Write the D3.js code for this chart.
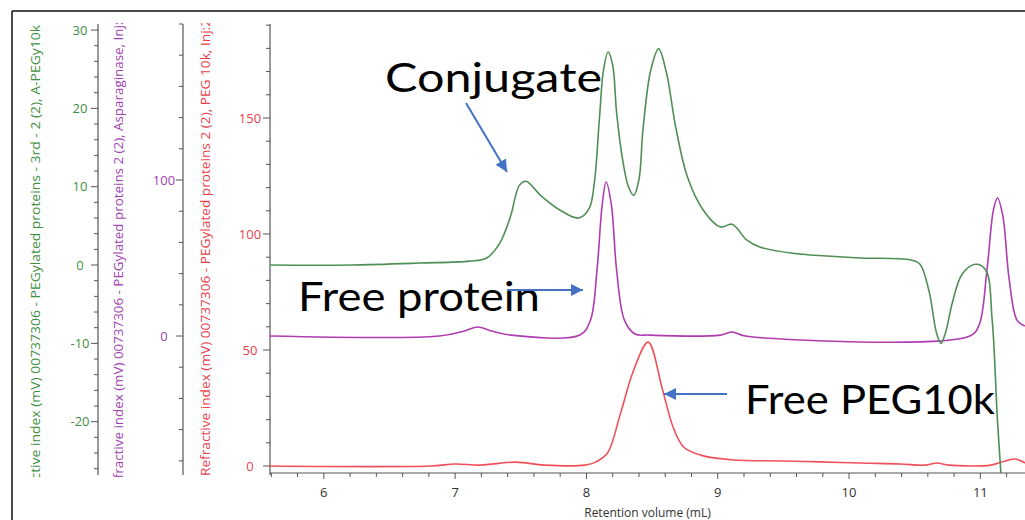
<!DOCTYPE html>
<html>
<head>
<meta charset="utf-8">
<script src="https://cdn.jsdelivr.net/npm/d3@7"></script>
<style>
  html, body { margin: 0; padding: 0; background: #fff; }
  svg { display: block; }
</style>
</head>
<body>
<svg id="chart" width="1025" height="520"></svg>
<script>
// Retention volume (mL) and detector signal (mV) for the three RI traces
const conjVol = [5.59, 6.2, 6.73, 7.11, 7.24, 7.34, 7.42, 7.49, 7.54, 7.65, 7.80, 7.94, 8.02, 8.06, 8.10, 8.13, 8.165, 8.20, 8.23, 8.28, 8.32, 8.36, 8.40, 8.43, 8.49, 8.55, 8.61, 8.68, 8.77, 8.89, 9.02, 9.11, 9.22, 9.32, 9.57, 9.83, 10.08, 10.47, 10.54, 10.61, 10.665, 10.70, 10.735, 10.79, 10.86, 10.96, 11.04, 11.09, 11.13, 11.16, 11.18];
const conjSignal = [0.0, 0.0, 0.25, 0.5, 0.9, 2.8, 6.1, 10.2, 10.7, 8.9, 7.0, 6.0, 7.2, 10.5, 19.0, 24.9, 27.2, 25.5, 19.4, 13.0, 10.0, 8.9, 10.9, 17.2, 24.9, 27.6, 24.5, 17.6, 11.2, 7.0, 4.85, 5.2, 3.2, 2.3, 1.5, 1.15, 0.9, 0.64, 0.1, -3.4, -8.6, -10.0, -8.6, -4.6, -1.2, 0.1, -0.6, -7.0, -19.8, -27.5, -32.6];

const protVol = [5.59, 6.88, 7.07, 7.17, 7.28, 7.42, 7.95, 8.03, 8.08, 8.12, 8.15, 8.19, 8.23, 8.29, 8.37, 8.48, 9.02, 9.11, 9.21, 10.92, 10.99, 11.05, 11.10, 11.13, 11.17, 11.22, 11.28, 11.34];
const protSignal = [0, 0, 3.2, 5.8, 3.2, 0.6, 0.6, 10, 42, 84, 98.7, 84, 42, 10, 1.3, 0.6, 0.6, 2.6, 0, 0, 7, 42, 81, 88.5, 77.6, 36, 10, 6.4];

const pegVol = [5.59, 6.81, 7.0, 7.19, 7.46, 7.68, 7.99, 8.07, 8.16, 8.26, 8.36, 8.47, 8.58, 8.66, 8.74, 8.87, 9.12, 9.48, 9.78, 10.09, 10.39, 10.58, 10.67, 10.76, 11.08, 11.19, 11.27, 11.34];
const pegSignal = [0, 0, 0.9, 0.4, 1.7, 0.4, 0.4, 1.7, 5.6, 22.8, 41.4, 53.4, 32.8, 16.8, 8.2, 4.7, 2.6, 2.2, 1.8, 1.3, 0.9, 0.4, 1.3, 0.4, 0.4, 2.2, 3, 1.3];

// Axis ticks
const volTicks = [6, 7, 8, 9, 10, 11];
const conjTicks = [30, 20, 10, 0, -10, -20];
const protTicks = [100, 0];
const pegTicks = [150, 100, 50, 0];

const conjTitle = "Refractive index (mV) 00737306 - PEGylated proteins - 3rd - 2 (2), A-PEGy10k";
const protTitle = "Refractive index (mV) 00737306 - PEGylated proteins 2 (2), Asparaginase, Inj:1";
const pegTitle = "Refractive index (mV) 00737306 - PEGylated proteins 2 (2), PEG 10k, Inj:2";
const xTitle = "Retention volume (mL)";

const green = "#4f8f55", greenText = "#3f8f3f";
const purple = "#b03cb0", purpleText = "#a040b0";
const red = "#f0505a", redText = "#e8404a";
const arrowBlue = "#4472c4";
const axisGray = "#555";

const svg = d3.select("#chart");
const plotTop = 24, plotBottom = 473, plotLeft = 270, plotRight = 1025;

const x = d3.scaleLinear().domain([5.59, 11.34]).range([plotLeft, plotRight]);
const yConj = d3.scaleLinear().domain([-26.55, 30.77]).range([plotBottom, plotTop]);
const yProt = d3.scaleLinear().domain([-87.8, 200]).range([plotBottom, plotTop]);
const yPeg = d3.scaleLinear().domain([-3, 190.5]).range([plotBottom, plotTop]);

// outer frame
svg.append("line").attr("x1", 12).attr("x2", 1025).attr("y1", 11).attr("y2", 11)
  .attr("stroke", "#111").attr("stroke-width", 1.5);
svg.append("line").attr("x1", 12).attr("x2", 12).attr("y1", 11).attr("y2", 520)
  .attr("stroke", "#111").attr("stroke-width", 1.5);

const defs = svg.append("defs");
defs.append("clipPath").attr("id", "plotClip").append("rect")
  .attr("x", plotLeft).attr("y", 12).attr("width", plotRight - plotLeft).attr("height", plotBottom - 12);
defs.append("clipPath").attr("id", "titleClip").append("rect")
  .attr("x", 14).attr("y", 23).attr("width", 250).attr("height", 454);
defs.append("marker").attr("id", "head").attr("viewBox", "0 0 10 10")
  .attr("refX", 10).attr("refY", 5).attr("markerWidth", 7).attr("markerHeight", 6)
  .attr("markerUnits", "strokeWidth").attr("orient", "auto")
  .append("path").attr("d", "M0,0 L10,5 L0,10 Z").attr("fill", arrowBlue);

const font = "'Open Sans', 'Noto Sans', sans-serif";

// vertical axis with minor ticks every `minor` units, labels centered at labelX
function drawYAxis(scale, axisX, minor, labels, color, labelX) {
  const g = svg.append("g");
  g.append("line").attr("x1", axisX).attr("x2", axisX).attr("y1", plotTop).attr("y2", plotBottom + 2)
    .attr("stroke", axisGray).attr("stroke-width", 1.2);
  const [d0, d1] = scale.domain();
  const minors = d3.range(Math.ceil(d0 / minor) * minor, d1 + 1e-9, minor);
  g.selectAll(".mt").data(minors).join("line")
    .attr("x1", d => labels.includes(Math.round(d)) ? axisX - 7 : axisX - 4)
    .attr("x2", axisX)
    .attr("y1", d => scale(d)).attr("y2", d => scale(d))
    .attr("stroke", axisGray).attr("stroke-width", 1);
  g.selectAll(".lab").data(labels).join("text")
    .attr("x", labelX).attr("y", d => scale(d)).attr("dy", "0.35em")
    .attr("text-anchor", "middle").attr("fill", color)
    .style("font-family", font).style("font-size", "13px")
    .text(d => d);
}
drawYAxis(yConj, 98, 2, conjTicks, greenText, 80);
drawYAxis(yProt, 183, 20, protTicks, purpleText, 164);
drawYAxis(yPeg, 270, 10, pegTicks, redText, 250);

// rotated axis titles, clipped to the axis extent
const titles = svg.append("g").attr("clip-path", "url(#titleClip)");
function axisTitle(text, bx, startY, len, color) {
  titles.append("text")
    .attr("transform", `translate(${bx},${startY}) rotate(-90)`)
    .attr("text-anchor", "start").attr("fill", color)
    .attr("textLength", len).attr("lengthAdjust", "spacingAndGlyphs")
    .style("font-family", font).style("font-size", "12.5px")
    .text(text);
}
axisTitle(conjTitle, 40, 514, 489, greenText);
axisTitle(protTitle, 123, 494, 480, purpleText);
axisTitle(pegTitle, 210, 476, 457, redText);

// x axis
const xAxis = svg.append("g");
xAxis.append("line").attr("x1", plotLeft).attr("x2", plotRight).attr("y1", plotBottom).attr("y2", plotBottom)
  .attr("stroke", axisGray).attr("stroke-width", 1.2);
const xMinor = d3.range(5.6, 11.35, 0.2);
xAxis.selectAll(".xm").data(xMinor).join("line")
  .attr("x1", d => x(d)).attr("x2", d => x(d))
  .attr("y1", plotBottom)
  .attr("y2", d => Math.abs(d - Math.round(d)) < 1e-6 ? plotBottom + 6 : plotBottom + 4)
  .attr("stroke", axisGray).attr("stroke-width", 1);
xAxis.selectAll(".xl").data(volTicks).join("text")
  .attr("x", d => x(d)).attr("y", plotBottom + 24)
  .attr("text-anchor", "middle").attr("fill", "#333")
  .style("font-family", font).style("font-size", "13px")
  .text(d => d);
xAxis.append("text").attr("x", (plotLeft + plotRight) / 2).attr("y", 517)
  .attr("text-anchor", "middle").attr("fill", "#333")
  .style("font-family", font).style("font-size", "12px")
  .text(xTitle);

// traces
const plot = svg.append("g").attr("clip-path", "url(#plotClip)");
function trace(vols, vals, yScale, color) {
  const pts = vols.map((v, i) => [v, vals[i]]);
  plot.append("path").datum(pts)
    .attr("fill", "none").attr("stroke", color).attr("stroke-width", 1.6)
    .attr("d", d3.line().x(d => x(d[0])).y(d => yScale(d[1])).curve(d3.curveCatmullRom.alpha(0.5)));
}
trace(pegVol, pegSignal, yPeg, red);
trace(protVol, protSignal, yProt, purple);
trace(conjVol, conjSignal, yConj, green);

// annotations
const ann = svg.append("g");
const annFont = "Lato, 'Noto Sans', sans-serif";
function label(text, lx, ly, len) {
  ann.append("text").attr("x", lx).attr("y", ly)
    .attr("fill", "#000").attr("textLength", len).attr("lengthAdjust", "spacingAndGlyphs")
    .style("font-family", annFont).style("font-size", "40px")
    .text(text);
}
function arrow(x1, y1, x2, y2) {
  ann.append("line").attr("x1", x1).attr("y1", y1).attr("x2", x2).attr("y2", y2)
    .attr("stroke", arrowBlue).attr("stroke-width", 2).attr("marker-end", "url(#head)");
}
label("Conjugate", 385, 92, 217);
label("Free protein", 298, 311, 242);
label("Free PEG10k", 745, 414, 250);
arrow(466, 103, 507, 172);
arrow(507, 290, 583, 290);
arrow(727, 394, 664, 394);
</script>
</body>
</html>
